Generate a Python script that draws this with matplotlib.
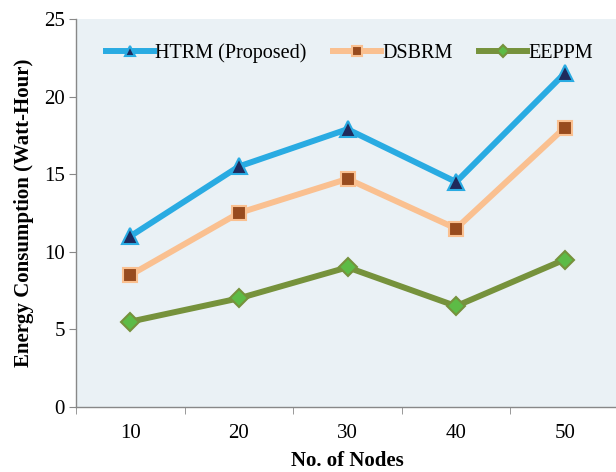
import numpy as np
import matplotlib
matplotlib.use('Agg')
import matplotlib.pyplot as plt

plt.rcParams['font.family'] = ['Liberation Serif', 'DejaVu Serif']

# number of nodes vs energy consumption
nodes = ['10', '20', '30', '40', '50']
htrm = [11, 15.5, 17.9, 14.5, 21.5]
dsbrm = [8.5, 12.5, 14.7, 11.5, 18]
eeppm = [5.5, 7, 9, 6.5, 9.5]

fig = plt.figure(figsize=(6.16, 4.72), dpi=100)
ax = fig.add_axes([76/616, 65/472, 543/616, 388/472])
ax.set_facecolor('#EAF1F5')

x = np.arange(len(nodes))
ax.plot(x, htrm, color='#29ABE2', lw=4.3, marker='^', ms=11,
        mfc='#1F2A5C', mec='#29ABE2', mew=1.5, label='HTRM (Proposed)')
ax.plot(x, dsbrm, color='#FAC090', lw=4.3, marker='s', ms=10,
        mfc='#984B1E', mec='#FAC090', mew=1.5, label='DSBRM')
ax.plot(x, eeppm, color='#76923C', lw=4.3, marker='D', ms=9,
        mfc='#5DBB46', mec='#76923C', mew=1.5, label='EEPPM')

ax.set_xlim(-0.5, 4.5)
ax.set_ylim(0, 25)
ax.set_yticks([0, 5, 10, 15, 20, 25])
ax.set_xticks(x)
ax.set_xticklabels(nodes)
ax.set_xticks(np.arange(-0.5, 4.6, 1), minor=True)
ax.tick_params(axis='x', which='major', length=0, labelsize=15, pad=12)
ax.tick_params(axis='x', which='minor', length=5, color='#888888', direction='out')
ax.tick_params(axis='y', length=5, color='#888888', labelsize=15, pad=3)

for s in ['top', 'right']:
    ax.spines[s].set_visible(False)
for s in ['left', 'bottom']:
    ax.spines[s].set_color('#888888')
    ax.spines[s].set_linewidth(1)

ax.set_xlabel('No. of Nodes', fontsize=15, fontweight='bold', labelpad=6)
ax.set_ylabel('Energy Consumption (Watt-Hour)', fontsize=15, fontweight='bold', labelpad=7)

ax.legend(loc='upper left', bbox_to_anchor=(0.022, 0.985), ncol=3, frameon=False,
          fontsize=14.5, handlelength=2.4, columnspacing=1.3, handletextpad=0.05,
          markerscale=0.7)

fig.savefig('out.png', dpi=100)
